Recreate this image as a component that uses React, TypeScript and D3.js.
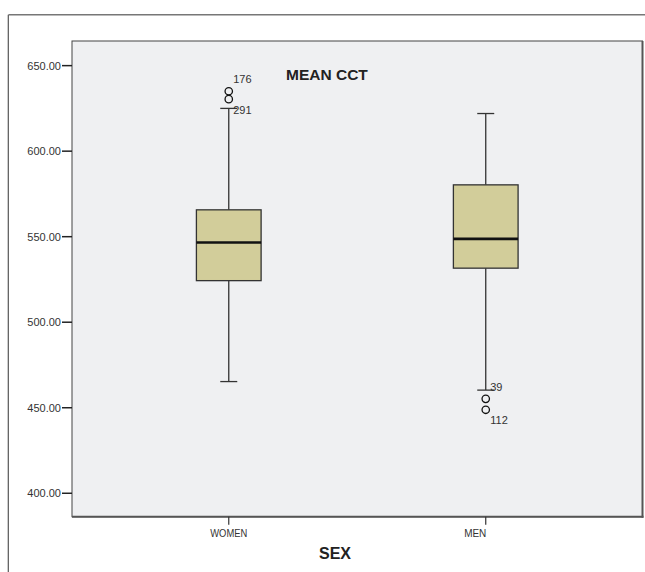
import React from "react";
import * as d3 from "d3";

const categories = ["WOMEN", "MEN"];
const q1Values = [524.3, 531.6];
const medianValues = [546.6, 548.7];
const q3Values = [565.7, 580.3];
const whiskerLowValues = [465.3, 460.3];
const whiskerHighValues = [625.0, 622.0];

const outlierGroups = ["WOMEN", "WOMEN", "MEN", "MEN"];
const outlierValues = [635.0, 630.4, 455.2, 448.8];
const outlierIds = ["176", "291", "39", "112"];

const yTicks = [400, 450, 500, 550, 600, 650];

const W = 645;
const H = 572;
const plot = { left: 72, top: 41, right: 642.5, bottom: 516.7 };
const labelOffsets = [0, -10.5];

export default function App() {
  const y = d3.scaleLinear().domain([386.3, 664.4]).range([plot.bottom, plot.top]);
  const x = d3
    .scalePoint<string>()
    .domain(categories)
    .range([plot.left, plot.right])
    .padding(0.61);
  const boxW = 64.7;
  const capW = 17;
  const font = "'Liberation Sans', Arial, sans-serif";

  return (
    <svg
      width={W}
      height={H}
      style={{ position: "absolute", left: 0, top: 0, display: "block", background: "#fff" }}
      fontFamily={font}
    >
      {/* outer frame */}
      <line x1={8.5} y1={14.8} x2={W} y2={14.8} stroke="#777" strokeWidth={1.5} />
      <line x1={8.3} y1={14.8} x2={8.3} y2={H} stroke="#555" strokeWidth={1.2} />

      {/* plot area */}
      <rect
        x={plot.left}
        y={plot.top}
        width={plot.right - plot.left}
        height={plot.bottom - plot.top}
        fill="#EFF0F2"
        stroke="#444"
        strokeWidth={1}
      />
      <line x1={plot.right} y1={plot.top} x2={plot.right} y2={plot.bottom + 1} stroke="#555" strokeWidth={2} />
      <line x1={plot.left} y1={plot.bottom} x2={plot.right + 1} y2={plot.bottom} stroke="#555" strokeWidth={2} />

      {/* y axis ticks */}
      {yTicks.map((t) => (
        <g key={t}>
          <line x1={62} x2={plot.left} y1={y(t)} y2={y(t)} stroke="#222" strokeWidth={1.5} />
          <text x={61} y={y(t) + 4} textAnchor="end" fontSize={11} fill="#333">
            {t.toFixed(2)}
          </text>
        </g>
      ))}

      {/* x axis ticks */}
      {categories.map((c, i) => (
        <g key={c}>
          <line x1={x(c)} x2={x(c)} y1={plot.bottom} y2={plot.bottom + 8} stroke="#333" strokeWidth={1.2} />
          <text
            x={(x(c) as number) + labelOffsets[i]}
            y={536.5}
            textAnchor="middle"
            fontSize={11}
            fill="#333"
            textLength={c.length * 7.4}
            lengthAdjust="spacingAndGlyphs"
          >
            {c}
          </text>
        </g>
      ))}

      {/* title */}
      <text x={286} y={80} fontSize={15.5} fontWeight="bold" fill="#222">
        MEAN CCT
      </text>
      <text x={335} y={559} fontSize={16} fontWeight="bold" fill="#222" textAnchor="middle">
        SEX
      </text>

      {/* boxes */}
      {categories.map((c, i) => {
        const cx = x(c) as number;
        return (
          <g key={c}>
            <line x1={cx} x2={cx} y1={y(whiskerHighValues[i])} y2={y(q3Values[i])} stroke="#333" strokeWidth={1.3} />
            <line x1={cx} x2={cx} y1={y(q1Values[i])} y2={y(whiskerLowValues[i])} stroke="#333" strokeWidth={1.3} />
            <line
              x1={cx - capW / 2}
              x2={cx + capW / 2}
              y1={y(whiskerHighValues[i])}
              y2={y(whiskerHighValues[i])}
              stroke="#333"
              strokeWidth={1.3}
            />
            <line
              x1={cx - capW / 2}
              x2={cx + capW / 2}
              y1={y(whiskerLowValues[i])}
              y2={y(whiskerLowValues[i])}
              stroke="#333"
              strokeWidth={1.3}
            />
            <rect
              x={cx - boxW / 2}
              y={y(q3Values[i])}
              width={boxW}
              height={y(q1Values[i]) - y(q3Values[i])}
              fill="#D2CD9A"
              stroke="#333"
              strokeWidth={1.3}
            />
            <line
              x1={cx - boxW / 2}
              x2={cx + boxW / 2}
              y1={y(medianValues[i])}
              y2={y(medianValues[i])}
              stroke="#111"
              strokeWidth={2.6}
            />
          </g>
        );
      })}

      {/* outliers */}
      {outlierValues.map((v, i) => {
        const g = outlierGroups[i];
        const cx = x(g) as number;
        const cy = y(v);
        const sameGroup = outlierValues.filter((_, j) => outlierGroups[j] === g);
        const isTop = v === Math.max(...sameGroup);
        return (
          <g key={outlierIds[i]}>
            <circle cx={cx} cy={cy} r={3.7} fill="none" stroke="#111" strokeWidth={1.3} />
            <text x={cx + 4.5} y={isTop ? cy - 8.3 : cy + 14.5} fontSize={11} fill="#333">
              {outlierIds[i]}
            </text>
          </g>
        );
      })}
    </svg>
  );
}
